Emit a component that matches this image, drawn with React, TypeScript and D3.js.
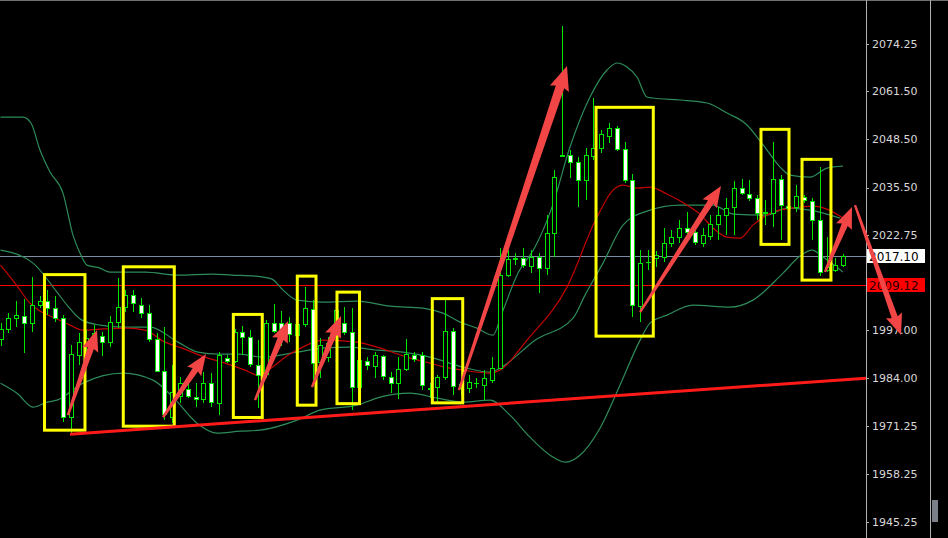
import React from 'react';
import * as d3 from 'd3';

const W = 948;
const H = 538;
const PLOT_RIGHT = 866;

// ---- Candles (index 0..108) ----
const opens = [1994.60,1997.22,2000.19,2000.89,1998.84,2003.78,2004.86,2003.05,2000.19,1973.62,
1990.28,1992.98,1995.14,1995.41,1993.71,1999.27,2003.32,2006.48,2003.78,2001.70,
1994.52,1985.96,1973.62,1979.21,1981.10,1979.02,1978.32,1982.64,1977.40,1989.39,
1988.74,1996.57,1995.06,1987.58,1985.15,1998.84,1999.00,1998.84,1995.68,1998.65,
2002.62,1988.39,1989.66,1998.38,1998.84,1996.57,1981.72,1988.66,1987.31,1990.01,
1984.42,1982.64,1986.42,1990.28,1990.28,1981.10,1981.72,1984.34,1996.84,1981.37,
1981.29,1982.72,1982.18,1983.53,1986.69,2011.88,2016.34,2016.39,2014.31,2016.66,
2013.69,2023.14,2044.15,2044.28,2042.47,2037.53,2044.09,2046.09,2049.49,2051.65,
2045.82,2037.53,2003.51,2015.39,2016.61,2016.74,2020.66,2022.22,2024.57,2023.57,
2020.66,2022.55,2025.60,2028.08,2030.24,2035.37,2033.80,2032.59,2028.70,2028.76,
2037.75,2030.65,2030.24,2033.07,2031.91,2026.73,2013.23,2013.37,2014.58];

const highs = [1998.92,2001.62,2004.86,2005.40,2011.42,2006.29,2007.83,2006.29,2001.08,1992.98,
1996.14,1997.03,1998.38,1996.57,2000.89,2010.99,2007.83,2007.83,2005.67,2003.78,
1996.22,1997.84,1987.58,1984.34,1982.72,1982.72,1985.77,1985.42,1991.17,1990.28,
1997.30,1998.11,1997.03,1994.33,1999.73,2004.05,2002.24,2000.62,2000.27,2008.72,
2005.13,1994.87,1995.14,2005.13,2003.32,2002.97,1989.47,1989.74,1991.17,1990.28,
1985.77,1989.74,1994.60,1991.17,1991.17,1982.72,1984.88,2005.13,1997.57,1984.07,
1984.88,1984.07,1986.23,1989.82,2019.17,2018.63,2017.74,2019.17,2018.63,2017.82,
2028.08,2040.23,2079.11,2045.63,2043.82,2046.17,2059.67,2051.03,2052.92,2052.11,
2047.87,2039.07,2018.63,2018.63,2018.36,2024.57,2024.03,2026.73,2028.97,2025.38,
2024.57,2028.08,2030.32,2032.67,2037.26,2037.80,2037.53,2033.48,2032.13,2047.87,
2038.88,2032.67,2036.18,2033.48,2032.59,2041.12,2022.14,2016.47,2017.55];

const lows = [1992.79,1996.22,1997.84,1990.82,1996.57,2002.89,2001.08,1999.27,1972.27,1969.14,
1987.58,1991.09,1992.98,1990.09,1992.52,1997.65,2001.89,2001.97,2000.27,1993.87,
1985.69,1972.73,1971.92,1977.32,1978.67,1976.24,1977.40,1976.32,1974.08,1988.04,
1988.12,1990.28,1987.12,1975.97,1984.07,1996.22,1992.71,1993.79,1994.33,1997.84,
1983.53,1984.07,1988.39,1995.68,1995.68,1975.43,1980.83,1986.23,1984.07,1983.53,
1979.94,1978.40,1985.96,1988.47,1980.83,1978.67,1977.40,1983.53,1979.48,1979.48,
1980.02,1981.37,1978.13,1982.72,1986.50,2011.34,2014.58,2013.77,2012.42,2007.02,
2011.88,2016.82,2043.74,2038.07,2030.32,2032.13,2042.93,2044.82,2047.52,2045.36,
2036.64,2000.62,1999.27,2013.23,2014.04,2015.47,2019.52,2020.52,2021.33,2019.98,
2019.44,2021.33,2021.33,2022.68,2022.68,2033.48,2031.86,2026.73,2025.38,2024.92,
2021.33,2028.08,2028.89,2031.32,2021.33,2011.75,2012.69,2012.69,2014.04];

const closes = [1997.22,2000.19,2001.08,1998.84,2003.78,2004.86,2003.05,2000.19,1973.62,1990.47,
1993.71,1994.87,1996.22,1993.71,1999.27,2003.32,2006.48,2004.24,2001.54,1994.52,
1986.04,1974.35,1980.37,1982.64,1979.21,1978.32,1982.64,1977.51,1990.28,1988.74,
1996.57,1995.14,1987.85,1984.88,1998.84,1996.76,1996.76,1995.95,1998.65,2002.89,
1988.04,1992.98,1993.44,2002.43,1996.57,1981.72,1988.93,1987.58,1990.28,1984.61,
1982.64,1986.42,1990.55,1989.12,1982.18,1981.37,1984.42,1996.84,1981.91,1982.45,
1983.07,1982.86,1983.99,1986.69,2011.88,2016.12,2016.39,2014.58,2016.66,2013.69,
2023.14,2038.26,2044.28,2042.47,2037.53,2044.28,2046.09,2049.87,2051.65,2045.82,
2037.53,2003.78,2015.04,2015.52,2017.28,2020.66,2022.22,2024.49,2023.63,2020.93,
2022.68,2025.57,2028.08,2030.11,2035.51,2034.10,2032.59,2028.76,2028.81,2037.75,
2030.78,2029.89,2033.35,2032.13,2026.87,2012.77,2014.04,2014.58,2017.10];

// ---- Bollinger / MA lines: [candle index, price] ----
const upperBand: [number, number][] = [[0,2054.54],[2.88,2054.54],[3.91,2052.92],[5.06,2045.63],[6.35,2039.69],[8.01,2034.02],[9.29,2022.68],[10.19,2017.82],[11.09,2014.58],[12.76,2013.77],[14.04,2012.69],[18.53,2012.69],[22.76,2011.88],[27.12,2012.15],[29.68,2011.88],[32.63,2011.61],[34.81,2010.80],[36.22,2007.83],[38.01,2005.13],[41.35,2004.59],[45.71,2004.86],[49.94,2003.51],[54.17,2002.97],[56.73,2001.62],[58.91,1999.19],[61.09,1997.57],[63.14,1995.68],[64.29,2001.62],[66.35,2012.42],[68.53,2019.44],[70.71,2030.24],[73.01,2046.44],[75.58,2059.94],[77.76,2067.23],[79.04,2069.12],[80.32,2068.04],[81.60,2065.34],[82.88,2059.94],[83.65,2059.67],[87.12,2059.13],[90.58,2058.32],[93.14,2055.62],[95.71,2052.38],[97.0,2049.14],[98.27,2045.63],[99.94,2041.04],[101.22,2038.88],[103.78,2038.34],[105.96,2040.77],[108.01,2041.31]];

const middleBand: [number, number][] = [[0,2018.63],[4.17,2015.12],[7.24,2007.29],[8.53,2003.78],[10.45,1999.73],[12.76,1998.38],[15.71,1997.84],[19.17,1997.84],[22.76,1993.79],[25.32,1991.09],[27.88,1990.55],[30.45,1990.55],[33.65,1989.74],[38.01,1991.09],[41.35,1992.17],[44.81,1992.44],[48.27,1991.63],[51.60,1991.09],[55.06,1989.74],[59.29,1987.04],[62.76,1985.69],[64.04,1986.77],[68.53,1994.33],[73.40,2000.27],[74.94,2006.48],[77.24,2015.12],[79.81,2025.38],[82.88,2029.16],[87.12,2030.78],[91.35,2030.78],[93.91,2028.35],[98.27,2028.08],[100.83,2029.97],[103.78,2029.43],[107.63,2027.27]];

const maLine: [number, number][] = [[0,2014.58],[1.86,2009.72],[3.78,2004.32],[5.06,2002.16],[6.99,2000.27],[8.91,1998.38],[10.58,1997.03],[12.76,1997.30],[16.22,1997.57],[18.53,1997.03],[21.09,1993.79],[23.27,1992.17],[26.22,1989.74],[28.78,1988.12],[31.35,1986.23],[33.01,1984.88],[34.29,1986.23],[36.86,1990.28],[38.01,1991.63],[41.35,1994.33],[45.71,1993.79],[48.27,1992.44],[52.12,1989.74],[55.06,1988.12],[57.63,1986.77],[59.29,1986.23],[62.76,1985.42],[64.04,1986.23],[67.50,1994.33],[72.63,2008.64],[76.47,2027.54],[78.53,2034.83],[79.81,2036.18],[81.60,2035.37],[83.27,2035.64],[85.45,2033.75],[88.01,2030.78],[89.68,2028.35],[91.35,2024.57],[93.14,2022.14],[94.81,2021.87],[96.47,2025.38],[99.04,2028.89],[102.50,2030.24],[104.17,2030.51],[105.96,2029.70],[108.01,2027.27]];

const lowerBand: [number, number][] = [[0,1982.72],[2.12,1980.02],[4.17,1976.24],[5.96,1977.59],[7.24,1978.13],[10.58,1982.72],[15.71,1985.42],[19.55,1983.53],[22.12,1978.94],[25.19,1971.92],[27.76,1969.22],[30.71,1969.76],[33.27,1970.03],[38.01,1972.73],[40.96,1975.43],[45.71,1976.78],[48.65,1978.94],[52.50,1980.02],[55.96,1978.67],[59.29,1977.59],[62.76,1978.13],[65.32,1974.08],[67.88,1968.14],[70.45,1963.28],[72.37,1961.39],[74.29,1963.28],[76.86,1970.57],[79.42,1982.18],[82.0,1994.33],[83.27,1998.92],[85.45,2001.08],[88.78,2003.78],[93.53,2003.24],[96.47,2005.13],[100.32,2012.42],[102.50,2017.01],[104.04,2018.63],[105.45,2016.74],[108.01,2012.69]];

// ---- Axis ----
const tickLabels = [2074.25, 2061.5, 2048.5, 2035.5, 2022.75, 1997.0, 1984.0, 1971.25, 1958.25, 1945.25];
const tickMarks = [2074.25, 2061.5, 2048.5, 2035.5, 2022.75, 2009.75, 1997.0, 1984.0, 1971.25, 1958.25, 1945.25];
const bidPrice = 2017.10;
const levelPrice = 2009.12;

// ---- Annotations (candle index / price) ----
// boxes: [leftIdx, rightIdx, topPrice, bottomPrice]
const boxes: [number, number, number, number][] = [
  [5.64, 10.83, 2012.01, 1970.03],
  [15.74, 22.28, 2014.12, 1971.11],
  [29.85, 33.56, 2001.27, 1973.46],
  [38.05, 40.45, 2011.61, 1976.78],
  [43.14, 46.03, 2007.29, 1977.19],
  [55.36, 59.26, 2005.53, 1977.40],
  [76.35, 83.69, 2057.16, 1995.41],
  [97.5, 101.09, 2051.22, 2020.17],
  [102.76, 106.47, 2043.12, 2010.53],
];
// arrows: [tailIdx, tailPrice, tipIdx, tipPrice]
const arrows: [number, number, number, number][] = [
  [8.65, 1974.08, 12.37, 1997.03],
  [20.83, 1973.54, 26.35, 1990.55],
  [32.63, 1978.13, 36.86, 1999.46],
  [39.94, 1981.64, 43.65, 2000.81],
  [58.78, 1980.83, 72.63, 2068.31],
  [82.0, 2001.89, 92.37, 2035.91],
  [105.71, 2012.69, 109.17, 2030.24],
  [109.55, 2030.78, 115.45, 1995.68],
];
const trendLine: [number, number, number, number] = [8.91, 1968.95, 110.96, 1984.07];

const GREEN = '#00e600';

function arrowPath(x0: number, y0: number, x1: number, y1: number, big: boolean) {
  const dx = x1 - x0, dy = y1 - y0;
  const len = Math.sqrt(dx * dx + dy * dy);
  const ux = dx / len, uy = dy / len;
  const nx = -uy, ny = ux;
  const headLen = big ? 22 : 19;
  const headHalf = big ? 10 : 8.5;
  const neckHalf = big ? 4.5 : 3.2;
  const tailHalf = 1.2;
  const bx = x1 - ux * headLen, by = y1 - uy * headLen;
  const pts = [
    [x0 + nx * tailHalf, y0 + ny * tailHalf],
    [bx + nx * neckHalf, by + ny * neckHalf],
    [bx + nx * headHalf - ux * 2, by + ny * headHalf - uy * 2],
    [x1, y1],
    [bx - nx * headHalf - ux * 2, by - ny * headHalf - uy * 2],
    [bx - nx * neckHalf, by - ny * neckHalf],
    [x0 - nx * tailHalf, y0 - ny * tailHalf],
  ];
  return 'M' + pts.map(p => p[0].toFixed(1) + ',' + p[1].toFixed(1)).join('L') + 'Z';
}

export default function App() {
  const x = d3.scaleLinear().domain([0, 108]).range([0.5, 842.9]);
  const y = d3.scaleLinear().domain([1945.25, 2074.25]).range([522, 44]);

  const line = d3.line<[number, number]>()
    .x(d => x(d[0]))
    .y(d => y(d[1]))
    .curve(d3.curveMonotoneX);

  const candles = opens.map((o, i) => {
    const c = closes[i], h = highs[i], l = lows[i];
    const cx = Math.round(x(i)) + 0.5;
    const bull = c >= o;
    const top = Math.round(y(Math.max(o, c))) + 0.5;
    const bot = Math.round(y(Math.min(o, c))) + 0.5;
    return (
      <g key={i}>
        <line x1={cx} x2={cx} y1={Math.round(y(h))} y2={Math.round(y(l))} stroke={GREEN} strokeWidth={1} />
        {bot - top < 1 ? (
          <line x1={cx - 2.5} x2={cx + 2.5} y1={top} y2={top} stroke={GREEN} strokeWidth={1} />
        ) : (
          <rect x={cx - 2} y={top} width={4} height={bot - top} fill={bull ? '#000' : '#fff'} stroke={GREEN} strokeWidth={1} />
        )}
      </g>
    );
  });

  const bidY = Math.round(y(bidPrice)) + 0.5;
  const lvlY = Math.round(y(levelPrice)) + 0.5;

  return (
    <svg width={W} height={H} style={{ position: 'absolute', left: 0, top: 0, background: '#000', display: 'block' }}
      fontFamily="'DejaVu Sans', sans-serif">
      <defs>
        <clipPath id="plotclip"><rect x={0} y={0} width={PLOT_RIGHT} height={H} /></clipPath>
      </defs>
      <rect x={0} y={0} width={W} height={H} fill="#000" />
      <line x1={0} x2={W} y1={0.5} y2={0.5} stroke="#6f6f6f" />
      <g clipPath="url(#plotclip)">
        <line x1={0} x2={PLOT_RIGHT} y1={bidY} y2={bidY} stroke="#7d8ea3" strokeWidth={1} />
        <line x1={0} x2={PLOT_RIGHT} y1={lvlY} y2={lvlY} stroke="#ff0000" strokeWidth={1} />
        <path d={line(upperBand) || ''} fill="none" stroke="#2e8b5a" strokeWidth={1.2} />
        <path d={line(middleBand) || ''} fill="none" stroke="#2e8b5a" strokeWidth={1.2} />
        <path d={line(lowerBand) || ''} fill="none" stroke="#2e8b5a" strokeWidth={1.2} />
        <path d={line(maLine) || ''} fill="none" stroke="#c40000" strokeWidth={1.2} />
        {candles}
        {boxes.map((b, i) => (
          <rect key={i} x={x(b[0])} y={y(b[2])} width={x(b[1]) - x(b[0])} height={y(b[3]) - y(b[2])}
            fill="none" stroke="#ffff00" strokeWidth={3} />
        ))}
        <line x1={x(trendLine[0])} y1={y(trendLine[1])} x2={x(trendLine[2])} y2={y(trendLine[3])}
          stroke="#ff1a1a" strokeWidth={3} />
      </g>
      {/* axis */}
      <line x1={PLOT_RIGHT + 0.5} x2={PLOT_RIGHT + 0.5} y1={0} y2={H} stroke="#b0b0b0" />
      <line x1={930.5} x2={930.5} y1={0} y2={H} stroke="#b0b0b0" />
      <rect x={932} y={500} width={6} height={22} fill="#7a7f88" />
      {tickMarks.map((t, i) => (
        <line key={'m' + i} x1={PLOT_RIGHT} x2={PLOT_RIGHT + 3} y1={Math.round(y(t)) + 0.5} y2={Math.round(y(t)) + 0.5} stroke="#b0b0b0" />
      ))}
      {tickLabels.map((t, i) => (
        <text key={'t' + i} x={872} y={y(t)} dy="0.35em" fontSize={11} fill="#d8d8d8">{t.toFixed(2)}</text>
      ))}
      <rect x={867} y={bidY - 7.5} width={58} height={14} fill="#ffffff" />
      <text x={869} y={bidY} dy="0.35em" fontSize={12} fill="#000">{bidPrice.toFixed(2)}</text>
      <rect x={867} y={lvlY - 7.5} width={58} height={14} fill="#ff0000" />
      <text x={869} y={lvlY} dy="0.35em" fontSize={12} fill="#2a0000">{levelPrice.toFixed(2)}</text>
      {arrows.map((a, i) => (
        <path key={i} d={arrowPath(x(a[0]), y(a[1]), x(a[2]), y(a[3]), i === 4)} fill="#f24646" />
      ))}
    </svg>
  );
}
